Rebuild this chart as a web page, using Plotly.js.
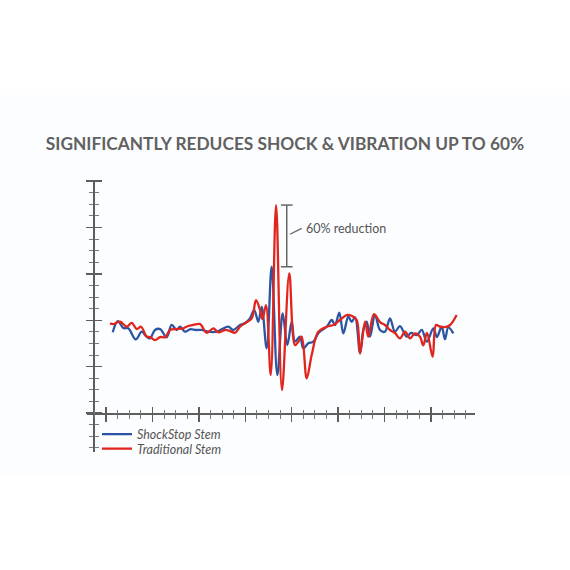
<!DOCTYPE html>
<html><head><meta charset="utf-8">
<script src="https://cdn.plot.ly/plotly-3.0.1.min.js"></script>
<style>html,body{margin:0;padding:0;background:#fff}</style>
</head><body><div id="chart" style="width:570px;height:570px"></div>
<script>
// ---- data (time units / amplitude units) ----
const shockStopTime = [0.58,1.01,1.49,1.92,2.56,3.08,3.45,3.79,4.22,4.66,5.23,5.66,6.09,6.38,6.81,7.24,7.76,8.25,8.82,9.54,10.0,10.54,10.97,11.55,11.98,12.41,12.78,13.13,13.42,13.85,14.28,14.77,15.23,15.63,16.01,16.29,16.72,17.01,17.44,17.87,18.30,18.62,19.03,19.46,19.74,20.11,20.46,20.89,21.18,21.47,21.90,22.18,22.47,22.76,23.19,23.62,24.05,24.48,24.91,25.34,25.92,26.29,26.78,27.22,27.65,28.22,28.53,28.94,29.22,29.51,29.94];
const shockStopValue = [6.96,7.93,7.33,7.30,6.35,7.01,6.64,6.44,7.16,7.24,6.53,7.59,7.16,7.44,7.01,7.22,7.16,7.16,7.01,7.01,7.24,7.44,7.16,7.59,7.76,8.16,8.88,7.87,9.16,5.58,12.61,3.28,8.59,5.86,7.87,6.15,6.58,5.58,6.01,6.15,6.87,7.16,7.44,8.02,7.59,8.65,6.87,8.30,7.87,8.25,5.15,7.16,7.87,6.58,8.45,7.16,7.01,8.16,7.01,7.50,6.58,6.90,6.72,7.16,6.15,7.30,6.55,7.44,6.35,7.39,6.87];
const traditionalTime = [0.34,0.63,1.21,1.78,2.22,2.65,3.02,3.51,3.79,4.22,4.66,5.09,5.52,6.03,6.66,7.09,7.53,8.10,8.68,9.25,9.68,10.26,10.69,11.12,11.55,11.98,12.56,12.93,13.28,13.49,13.79,14.20,14.66,15.17,15.80,16.29,16.58,16.87,17.30,17.73,18.30,19.03,19.59,20.17,20.75,21.21,21.61,21.90,22.33,22.61,23.10,23.62,24.05,24.48,24.91,25.34,25.78,26.21,26.64,27.07,27.35,27.67,28.16,28.45,28.79,29.22,29.66,30.23];
const traditionalValue = [7.73,7.67,7.87,7.44,7.78,7.24,7.44,6.58,6.55,6.29,6.55,6.53,7.16,7.24,7.30,7.50,7.59,7.67,6.92,7.30,6.96,7.16,7.07,6.92,7.44,7.73,8.16,9.74,8.88,8.10,9.31,3.28,17.93,1.98,12.04,5.86,6.15,6.58,2.99,5.00,7.01,7.44,7.59,8.02,8.45,8.36,8.02,5.15,7.87,6.58,8.53,7.84,7.59,7.16,6.90,6.44,7.01,6.44,6.87,6.58,5.83,6.90,4.85,7.59,7.44,7.41,7.59,8.45];
const seriesNames = ['ShockStop Stem', 'Traditional Stem'];
const titleText = 'SIGNIFICANTLY REDUCES SHOCK & VIBRATION UP TO 60%';
const reductionLabel = '60% reduction';

// ---- styling / layout ----
const W = 570, H = 570;
const axisColor = '#5e5e5e';
const blue = '#2b55a3', red = '#e1251d';
const xRange = [-1.64, 31.81], yRange = [-3.36, 20.09];
const xDomain = [87 / W, 475 / W], yDomain = [1 - 452 / H, 1 - 180 / H];
const xAxisPos = 1 - 413.5 / H, yAxisPos = 94 / W;

const peakTrad = Math.max(...traditionalValue);
const peakShock = Math.max(...shockStopValue);
const bracketX = 15.58, capHalf = 0.5;

function axisBase(range) {
  return {
    range: range, anchor: 'free', showticklabels: false, showgrid: false, zeroline: false,
    tick0: 0, dtick: 4, ticklen: 7, tickwidth: 1.4, tickcolor: axisColor,
    minor: {tick0: 0, dtick: 1, ticklen: 4, tickwidth: 1, tickcolor: '#7a7a7a', showgrid: false},
    fixedrange: true
  };
}

const xaxis = Object.assign(axisBase(xRange), {domain: xDomain, position: xAxisPos, showline: true, linecolor: axisColor, linewidth: 2, ticks: 'outside', side: 'bottom'});
xaxis.minor.ticks = 'outside';
const xaxis2 = Object.assign(axisBase(xRange), {overlaying: 'x', position: xAxisPos, showline: false, ticks: 'inside', side: 'bottom'});
xaxis2.minor.ticks = 'inside';
const yaxis = Object.assign(axisBase(yRange), {domain: yDomain, position: yAxisPos, showline: true, linecolor: axisColor, linewidth: 2, ticks: 'outside', side: 'left'});
yaxis.minor.ticks = 'outside';
const yaxis2 = Object.assign(axisBase(yRange), {overlaying: 'y', position: yAxisPos, showline: false, ticks: 'inside', side: 'left'});
yaxis2.minor.ticks = 'inside';

const traces = [
  {x: shockStopTime, y: shockStopValue, name: seriesNames[0], type: 'scatter', mode: 'lines', legend: 'legend',
   line: {color: blue, width: 2.3, shape: 'spline', smoothing: 1}},
  {x: traditionalTime, y: traditionalValue, name: seriesNames[1], type: 'scatter', mode: 'lines', legend: 'legend2',
   line: {color: red, width: 2.3, shape: 'spline', smoothing: 1}},
  {x: [], y: [], xaxis: 'x2', yaxis: 'y2', showlegend: false, hoverinfo: 'skip'}
];

const gray = '#666';
const legendFont = {family: 'Lato, sans-serif', size: 12.5, color: '#555', style: 'italic'};
const legendBase = {xanchor: 'left', yanchor: 'top', bgcolor: 'rgba(0,0,0,0)', font: legendFont, itemwidth: 30};
const layout = {
  width: W, height: H, margin: {l: 0, r: 0, t: 0, b: 0},
  paper_bgcolor: '#ffffff', plot_bgcolor: 'rgba(0,0,0,0)',
  title: {text: titleText, x: 0.5, xanchor: 'center', y: 1 - 144 / H, yanchor: 'middle', xref: 'paper', yref: 'paper',
          font: {family: 'Lato, sans-serif', size: 17.3, weight: 'bold', color: '#616161'}},
  xaxis: xaxis, xaxis2: xaxis2, yaxis: yaxis, yaxis2: yaxis2,
  showlegend: true,
  legend: Object.assign({x: 97 / W, y: 1 - 419.5 / H}, legendBase),
  legend2: Object.assign({x: 97 / W, y: 1 - 434 / H}, legendBase),
  shapes: [
    {type: 'rect', xref: 'paper', yref: 'paper', x0: 0, x1: 1, y0: 1 - 474 / H, y1: 1 - 95 / H,
     fillcolor: '#fcfdfe', line: {width: 0}, layer: 'below'},
    {type: 'line', xref: 'x', yref: 'y', x0: bracketX, x1: bracketX, y0: peakShock, y1: peakTrad, line: {color: gray, width: 1.5}},
    {type: 'line', xref: 'x', yref: 'y', x0: bracketX - capHalf, x1: bracketX + capHalf, y0: peakTrad, y1: peakTrad, line: {color: gray, width: 1.5}},
    {type: 'line', xref: 'x', yref: 'y', x0: bracketX - capHalf, x1: bracketX + capHalf, y0: peakShock, y1: peakShock, line: {color: gray, width: 1.5}},
    {type: 'line', xref: 'x', yref: 'y', x0: bracketX + 0.28, x1: bracketX + 1.29, y0: 15.41, y1: 15.92, line: {color: gray, width: 1.3}}
  ],
  annotations: [
    {text: reductionLabel, xref: 'x', yref: 'y', x: bracketX + 1.45, y: 15.95, xanchor: 'left', yanchor: 'middle',
     showarrow: false, font: {family: 'Lato, sans-serif', size: 12.5, color: '#555'}}
  ]
};

Plotly.newPlot('chart', traces, layout, {displayModeBar: false, staticPlot: true});
</script></body></html>
